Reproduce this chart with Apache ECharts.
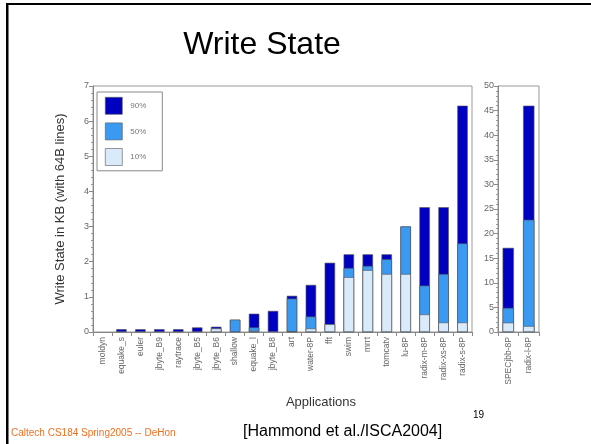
<!DOCTYPE html>
<html><head><meta charset="utf-8">
<script src="https://cdn.jsdelivr.net/npm/echarts@6/dist/echarts.min.js"></script>
<style>html,body{margin:0;padding:0;background:#fff}#c{width:591px;height:444px}</style>
</head><body><div id="c"></div>
<script>
const categoriesA = ['moldyn','equake_s','euler','jbyte_B9','raytrace','jbyte_B5','jbyte_B6','shallow','equake_l','jbyte_B8','art','water-8P','fft','swim','mrrt','tomcatv','lu-8P','radix-m-8P','radix-xs-8P','radix-s-8P'];
const p90A = [0,0.08,0.08,0.08,0.08,0.13,0.15,0.35,0.52,0.60,1.03,1.34,1.97,2.21,2.21,2.21,3.00,3.55,3.55,6.44];
const p50A = [0,0,0,0,0,0,0.10,0.35,0.13,0,0.95,0.44,0.22,1.82,1.88,2.07,3.00,1.32,1.65,2.52];
const p10A = [0,0,0,0,0,0,0.10,0,0.03,0,0.02,0.10,0.22,1.56,1.76,1.65,1.65,0.50,0.27,0.27];
const categoriesB = ['SPECjbb-8P','radix-l-8P'];
const p90B = [17.1,46.0];
const p50B = [4.9,22.8];
const p10B = [1.9,1.2];
const yTicksA = [0,7,1];
const yTicksB = [0,50,5];

const colors = {'90%':'#0000c0','50%':'#3a9af2','10%':'#d9ebfb'};
const FONT = 'Liberation Sans, Arial, sans-serif';
const chart = echarts.init(document.getElementById('c'), null, {renderer:'canvas'});

function mk(name, data, gi){
  return {name, type:'bar', xAxisIndex:gi, yAxisIndex:gi,
    data: data.map(v => v === 0 ? {value:0, itemStyle:{borderWidth:0, opacity:0}} : v),
    barWidth:'55%', barGap:'-100%', animation:false,
    itemStyle:{color:colors[name], borderColor:'#555', borderWidth:0.6}};
}
const xAx = (cats, gi) => ({type:'category', gridIndex:gi, data:cats,
  axisLine:{lineStyle:{color:'#888'}},
  axisTick:{show:true, alignWithLabel:false, length:4, lineStyle:{color:'#888'}},
  axisLabel:{rotate:90, fontSize:8.5, color:'#666', fontFamily:FONT, margin:5, interval:0}});
const yAx = (t, gi, extra) => Object.assign({type:'value', gridIndex:gi, min:t[0], max:t[1], interval:t[2],
  axisLine:{show:true, lineStyle:{color:'#888'}},
  axisTick:{show:true, length:4, lineStyle:{color:'#888'}},
  minorTick:{show:true, splitNumber:5, length:2, lineStyle:{color:'#999'}},
  splitLine:{show:false},
  axisLabel:{fontSize:9, color:'#666', fontFamily:FONT, margin:4}}, extra||{});

chart.setOption({
  backgroundColor:'#fff',
  textStyle:{fontFamily:FONT},
  grid:[
    {left:93, right:119, top:86, bottom:112, show:true, borderColor:'#999', borderWidth:1},
    {left:498, right:52, top:86, bottom:112, show:true, borderColor:'#999', borderWidth:1}
  ],
  legend:{data:['90%','50%','10%'], orient:'vertical', left:97, top:92,
    itemWidth:17, itemHeight:17, itemGap:8, icon:'rect',
    padding:[5,16,5,8], borderColor:'#888', borderWidth:1, backgroundColor:'#fff',
    itemStyle:{borderColor:'#555', borderWidth:0.6},
    textStyle:{fontSize:8, color:'#777', fontFamily:FONT, padding:[0,0,0,3]}},
  xAxis:[xAx(categoriesA,0), xAx(categoriesB,1)],
  yAxis:[yAx(yTicksA,0,{name:'Write State in KB (with 64B lines)', nameLocation:'middle', nameGap:26,
          nameTextStyle:{fontSize:13, color:'#333', fontFamily:FONT}}),
         yAx(yTicksB,1)],
  series:[mk('90%',p90A,0), mk('50%',p50A,0), mk('10%',p10A,0),
          mk('90%',p90B,1), mk('50%',p50B,1), mk('10%',p10B,1)],
  graphic:[
    {type:'rect', shape:{x:6, y:3, width:2.5, height:441}, style:{fill:'#000'}},
    {type:'rect', shape:{x:6, y:3, width:585, height:2}, style:{fill:'#000'}},
    {type:'text', x:262, y:45, style:{text:'Write State', font:'32px '+FONT, fill:'#000', textAlign:'center', textVerticalAlign:'middle'}},
    {type:'text', x:321, y:402, style:{text:'Applications', font:'13px '+FONT, fill:'#333', textAlign:'center', textVerticalAlign:'middle'}},
    {type:'text', x:11, y:433, style:{text:'Caltech CS184 Spring2005 -- DeHon', font:'10px '+FONT, fill:'#f07020', textAlign:'left', textVerticalAlign:'middle'}},
    {type:'text', x:243, y:432, style:{text:'[Hammond et al./ISCA2004]', font:'16px '+FONT, fill:'#000', textAlign:'left', textVerticalAlign:'middle'}},
    {type:'text', x:473, y:415, style:{text:'19', font:'10px '+FONT, fill:'#000', textAlign:'left', textVerticalAlign:'middle'}}
  ]
});
</script></body></html>
